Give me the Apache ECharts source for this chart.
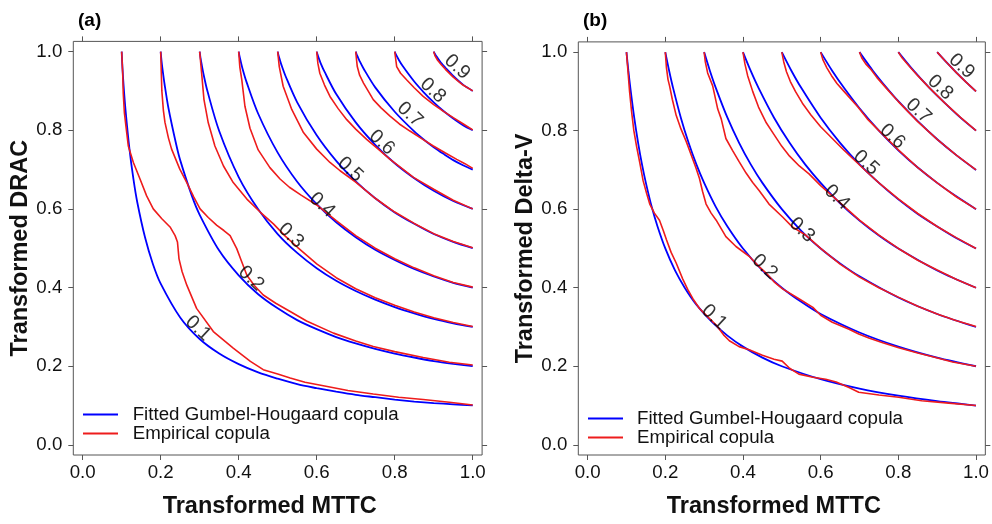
<!DOCTYPE html>
<html><head><meta charset="utf-8">
<script src="https://cdn.jsdelivr.net/npm/echarts@6/dist/echarts.min.js"></script>
<style>html,body{margin:0;padding:0;background:#fff}#c{width:992px;height:524px}</style>
</head><body><div id="c"></div>
<script>
// ---------- data ----------
const levels = ['0.1','0.2','0.3','0.4','0.5','0.6','0.7','0.8','0.9'];
const tickValues = [0, 0.2, 0.4, 0.6, 0.8, 1.0];

// Panel (a): fitted Gumbel-Hougaard contours
const fitA_1 = [[0.1,1],[0.102,0.959],[0.105,0.913],[0.11,0.85],[0.12,0.752],[0.13,0.677],[0.14,0.617],[0.16,0.527],[0.18,0.46],[0.2,0.41],[0.25,0.324],[0.3,0.269],[0.35,0.232],[0.4,0.205],[0.45,0.184],[0.5,0.168],[0.55,0.154],[0.6,0.144],[0.65,0.135],[0.7,0.127],[0.75,0.121],[0.8,0.115],[0.85,0.11],[0.9,0.106],[0.95,0.103],[1,0.1]];
const fitA_2 = [[0.2,1],[0.202,0.978],[0.205,0.953],[0.21,0.917],[0.22,0.856],[0.24,0.763],[0.25,0.724],[0.28,0.633],[0.3,0.585],[0.35,0.494],[0.4,0.431],[0.45,0.383],[0.5,0.347],[0.55,0.317],[0.6,0.294],[0.65,0.274],[0.7,0.258],[0.75,0.244],[0.8,0.232],[0.85,0.222],[0.9,0.213],[0.95,0.206],[1,0.2]];
const fitA_3 = [[0.3,1],[0.302,0.985],[0.305,0.968],[0.31,0.942],[0.32,0.899],[0.35,0.798],[0.4,0.681],[0.45,0.599],[0.5,0.536],[0.55,0.488],[0.6,0.449],[0.65,0.417],[0.7,0.391],[0.75,0.369],[0.8,0.35],[0.85,0.334],[0.9,0.32],[0.95,0.309],[1,0.3]];
const fitA_4 = [[0.4,1],[0.402,0.989],[0.405,0.976],[0.41,0.956],[0.42,0.923],[0.45,0.842],[0.5,0.743],[0.55,0.669],[0.6,0.612],[0.65,0.566],[0.7,0.528],[0.75,0.496],[0.8,0.47],[0.85,0.447],[0.9,0.428],[0.95,0.412],[1,0.4]];
const fitA_5 = [[0.5,1],[0.502,0.991],[0.505,0.981],[0.51,0.965],[0.52,0.938],[0.55,0.871],[0.6,0.787],[0.65,0.722],[0.7,0.67],[0.75,0.627],[0.8,0.591],[0.85,0.562],[0.9,0.536],[0.95,0.516],[1,0.5]];
const fitA_6 = [[0.6,1],[0.602,0.993],[0.605,0.984],[0.61,0.971],[0.62,0.949],[0.65,0.892],[0.7,0.82],[0.75,0.763],[0.8,0.716],[0.85,0.678],[0.9,0.646],[0.95,0.62],[1,0.6]];
const fitA_7 = [[0.7,1],[0.702,0.994],[0.705,0.987],[0.71,0.976],[0.72,0.957],[0.75,0.909],[0.8,0.847],[0.85,0.797],[0.875,0.776],[0.9,0.757],[0.925,0.74],[0.95,0.724],[0.975,0.711],[1,0.7]];
const fitA_8 = [[0.8,1],[0.802,0.995],[0.805,0.989],[0.81,0.98],[0.82,0.964],[0.85,0.924],[0.875,0.896],[0.9,0.871],[0.925,0.849],[0.95,0.83],[0.975,0.813],[1,0.8]];
const fitA_9 = [[0.9,1],[0.902,0.996],[0.905,0.991],[0.91,0.984],[0.92,0.97],[0.93,0.959],[0.95,0.938],[0.975,0.916],[1,0.9]];

// Panel (a): empirical copula contours
const empA_1 = [[0.1,1],[0.1026,0.945],[0.104,0.895],[0.107,0.844],[0.111,0.81],[0.117,0.76],[0.13,0.718],[0.147,0.676],[0.164,0.633],[0.181,0.6],[0.203,0.575],[0.224,0.554],[0.237,0.532],[0.243,0.516],[0.247,0.473],[0.255,0.44],[0.267,0.406],[0.292,0.347],[0.335,0.288],[0.386,0.246],[0.43,0.212],[0.463,0.191],[0.5,0.18],[0.532,0.17],[0.57,0.159],[0.617,0.15],[0.68,0.138],[0.745,0.129],[0.81,0.121],[0.873,0.115],[0.94,0.108],[1,0.101]];
const empA_2 = [[0.2,1],[0.2015,0.95],[0.203,0.9],[0.207,0.85],[0.211,0.82],[0.22,0.78],[0.228,0.752],[0.249,0.701],[0.267,0.667],[0.285,0.63],[0.301,0.6],[0.322,0.578],[0.344,0.558],[0.362,0.545],[0.378,0.532],[0.395,0.499],[0.408,0.465],[0.421,0.431],[0.44,0.405],[0.463,0.381],[0.495,0.36],[0.532,0.339],[0.574,0.315],[0.643,0.284],[0.7,0.264],[0.745,0.25],[0.8,0.237],[0.873,0.222],[0.94,0.21],[1,0.203]];
const empA_3 = [[0.3,1],[0.305,0.945],[0.311,0.878],[0.322,0.819],[0.339,0.76],[0.361,0.709],[0.386,0.667],[0.421,0.625],[0.455,0.592],[0.489,0.562],[0.52,0.53],[0.55,0.503],[0.6,0.46],[0.65,0.425],[0.7,0.397],[0.75,0.374],[0.8,0.355],[0.85,0.338],[0.9,0.323],[0.95,0.311],[1,0.301]];
const empA_4 = [[0.4,1],[0.403,0.96],[0.408,0.928],[0.416,0.861],[0.429,0.805],[0.45,0.75],[0.48,0.705],[0.506,0.676],[0.53,0.655],[0.56,0.635],[0.6,0.61],[0.65,0.57],[0.7,0.532],[0.75,0.5],[0.8,0.473],[0.85,0.45],[0.9,0.43],[0.95,0.413],[1,0.401]];
const empA_5 = [[0.5,1],[0.504,0.962],[0.514,0.912],[0.536,0.853],[0.566,0.794],[0.6,0.752],[0.634,0.718],[0.66,0.697],[0.7,0.668],[0.75,0.627],[0.8,0.592],[0.85,0.563],[0.9,0.537],[0.95,0.517],[1,0.501]];
const empA_6 = [[0.6,1],[0.603,0.97],[0.608,0.945],[0.62,0.915],[0.634,0.886],[0.655,0.855],[0.677,0.827],[0.7,0.803],[0.728,0.777],[0.76,0.75],[0.788,0.726],[0.82,0.702],[0.848,0.68],[0.9,0.65],[0.95,0.622],[1,0.6]];
const empA_7 = [[0.7,1],[0.702,0.98],[0.704,0.962],[0.71,0.94],[0.72,0.92],[0.745,0.878],[0.765,0.857],[0.788,0.836],[0.812,0.816],[0.839,0.798],[0.87,0.778],[0.899,0.76],[0.93,0.742],[0.959,0.726],[0.98,0.715],[1,0.703]];
const empA_8 = [[0.8,1],[0.802,0.985],[0.805,0.962],[0.815,0.945],[0.831,0.928],[0.85,0.908],[0.873,0.886],[0.9,0.865],[0.925,0.848],[0.95,0.832],[0.976,0.816],[1,0.801]];
const empA_9 = [[0.9,1],[0.903,0.99],[0.91,0.978],[0.92,0.966],[0.93,0.955],[0.95,0.935],[0.975,0.915],[1,0.9]];

// Panel (b): fitted Gumbel-Hougaard contours
const fitB_1 = [[0.1,1],[0.105,0.952],[0.11,0.909],[0.12,0.833],[0.13,0.769],[0.14,0.714],[0.15,0.667],[0.165,0.606],[0.18,0.556],[0.2,0.5],[0.225,0.444],[0.25,0.4],[0.28,0.357],[0.32,0.313],[0.36,0.278],[0.4,0.25],[0.45,0.222],[0.5,0.2],[0.6,0.167],[0.7,0.143],[0.8,0.125],[0.9,0.111],[1,0.1]];
const fitB_2 = [[0.2,1],[0.21,0.952],[0.22,0.909],[0.24,0.833],[0.26,0.769],[0.28,0.714],[0.3,0.667],[0.33,0.606],[0.36,0.556],[0.4,0.5],[0.45,0.444],[0.5,0.4],[0.55,0.364],[0.6,0.333],[0.7,0.286],[0.8,0.25],[0.9,0.222],[1,0.2]];
const fitB_3 = [[0.3,1],[0.315,0.952],[0.33,0.909],[0.36,0.833],[0.39,0.769],[0.42,0.714],[0.45,0.667],[0.5,0.6],[0.55,0.545],[0.6,0.5],[0.65,0.462],[0.7,0.429],[0.8,0.375],[0.9,0.333],[1,0.3]];
const fitB_4 = [[0.4,1],[0.42,0.952],[0.44,0.909],[0.48,0.833],[0.52,0.769],[0.56,0.714],[0.6,0.667],[0.65,0.615],[0.7,0.571],[0.75,0.533],[0.8,0.5],[0.9,0.444],[1,0.4]];
const fitB_5 = [[0.5,1],[0.525,0.952],[0.55,0.909],[0.6,0.833],[0.65,0.769],[0.7,0.714],[0.75,0.667],[0.8,0.625],[0.85,0.588],[0.9,0.556],[0.95,0.526],[1,0.5]];
const fitB_6 = [[0.6,1],[0.63,0.952],[0.66,0.909],[0.7,0.857],[0.75,0.8],[0.8,0.75],[0.85,0.706],[0.9,0.667],[0.95,0.632],[1,0.6]];
const fitB_7 = [[0.7,1],[0.735,0.952],[0.77,0.909],[0.8,0.875],[0.85,0.824],[0.9,0.778],[0.95,0.737],[1,0.7]];
const fitB_8 = [[0.8,1],[0.84,0.952],[0.88,0.909],[0.92,0.87],[0.96,0.833],[1,0.8]];
const fitB_9 = [[0.9,1],[0.925,0.973],[0.95,0.947],[0.975,0.923],[1,0.9]];

// Panel (b): empirical copula contours
const empB_1 = [[0.1,1],[0.104,0.95],[0.108,0.9],[0.113,0.85],[0.119,0.8],[0.126,0.76],[0.134,0.72],[0.143,0.672],[0.152,0.64],[0.16,0.613],[0.172,0.59],[0.185,0.572],[0.195,0.545],[0.203,0.522],[0.215,0.49],[0.228,0.463],[0.245,0.422],[0.258,0.395],[0.271,0.372],[0.288,0.347],[0.31,0.325],[0.331,0.305],[0.35,0.28],[0.365,0.265],[0.39,0.25],[0.416,0.242],[0.45,0.228],[0.48,0.218],[0.501,0.213],[0.52,0.195],[0.544,0.18],[0.58,0.172],[0.613,0.167],[0.64,0.16],[0.673,0.146],[0.698,0.134],[0.75,0.127],[0.801,0.121],[0.86,0.112],[0.93,0.106],[1,0.1]];
const empB_2 = [[0.2,1],[0.203,0.96],[0.207,0.93],[0.211,0.914],[0.218,0.88],[0.228,0.839],[0.24,0.805],[0.254,0.772],[0.266,0.74],[0.279,0.705],[0.288,0.678],[0.296,0.645],[0.305,0.613],[0.318,0.59],[0.331,0.572],[0.356,0.53],[0.382,0.505],[0.416,0.48],[0.44,0.455],[0.459,0.438],[0.48,0.415],[0.502,0.397],[0.544,0.372],[0.58,0.35],[0.6,0.33],[0.63,0.312],[0.673,0.294],[0.698,0.282],[0.724,0.272],[0.76,0.26],[0.801,0.247],[0.85,0.234],[0.886,0.225],[0.94,0.211],[1,0.2]];
const empB_3 = [[0.3,1],[0.303,0.975],[0.309,0.947],[0.322,0.914],[0.335,0.855],[0.344,0.83],[0.356,0.78],[0.373,0.75],[0.39,0.721],[0.408,0.692],[0.425,0.668],[0.442,0.647],[0.467,0.613],[0.502,0.58],[0.527,0.555],[0.56,0.535],[0.6,0.5],[0.65,0.46],[0.7,0.427],[0.75,0.4],[0.8,0.376],[0.85,0.353],[0.9,0.333],[0.95,0.316],[1,0.301]];
const empB_4 = [[0.4,1],[0.405,0.97],[0.412,0.94],[0.425,0.9],[0.44,0.86],[0.46,0.82],[0.48,0.79],[0.5,0.76],[0.52,0.735],[0.545,0.71],[0.57,0.69],[0.6,0.66],[0.64,0.625],[0.7,0.572],[0.75,0.534],[0.8,0.5],[0.85,0.47],[0.9,0.445],[0.95,0.421],[1,0.4]];
const empB_5 = [[0.5,1],[0.505,0.975],[0.512,0.95],[0.522,0.925],[0.535,0.9],[0.553,0.87],[0.575,0.84],[0.6,0.81],[0.63,0.78],[0.66,0.75],[0.69,0.722],[0.72,0.694],[0.75,0.667],[0.8,0.626],[0.85,0.589],[0.9,0.556],[0.95,0.527],[1,0.5]];
const empB_6 = [[0.6,1],[0.606,0.98],[0.616,0.96],[0.628,0.94],[0.642,0.92],[0.66,0.9],[0.678,0.88],[0.696,0.86],[0.72,0.83],[0.75,0.8],[0.8,0.751],[0.85,0.706],[0.9,0.667],[0.95,0.631],[1,0.6]];
const empB_7 = [[0.7,1],[0.706,0.985],[0.716,0.97],[0.73,0.955],[0.745,0.935],[0.77,0.907],[0.8,0.874],[0.85,0.823],[0.9,0.778],[0.95,0.737],[1,0.7]];
const empB_8 = [[0.8,1],[0.81,0.985],[0.83,0.962],[0.85,0.94],[0.88,0.909],[0.92,0.87],[0.96,0.834],[1,0.8]];
const empB_9 = [[0.9,1],[0.925,0.973],[0.95,0.947],[0.975,0.923],[1,0.9]];

// contour label anchor points (data coordinates)
const labelPosA = [[0.296,0.296],[0.432,0.423],[0.534,0.532],[0.614,0.61],[0.686,0.7],[0.767,0.769],[0.839,0.84],[0.898,0.901],[0.96,0.961]];
const labelPosB = [[0.326,0.325],[0.456,0.453],[0.552,0.547],[0.642,0.63],[0.717,0.718],[0.785,0.785],[0.852,0.85],[0.908,0.91],[0.963,0.964]];

const fitA = [fitA_1,fitA_2,fitA_3,fitA_4,fitA_5,fitA_6,fitA_7,fitA_8,fitA_9];
const empA = [empA_1,empA_2,empA_3,empA_4,empA_5,empA_6,empA_7,empA_8,empA_9];
const fitB = [fitB_1,fitB_2,fitB_3,fitB_4,fitB_5,fitB_6,fitB_7,fitB_8,fitB_9];
const empB = [empB_1,empB_2,empB_3,empB_4,empB_5,empB_6,empB_7,empB_8,empB_9];

const panelLetters = ['(a)','(b)'];
const yTitles = ['Transformed DRAC','Transformed Delta-V'];
const xTitle = 'Transformed MTTC';
const fitName = 'Fitted Gumbel-Hougaard copula';
const empName = 'Empirical copula';

// ---------- styling ----------
const FONT = '"Liberation Sans", Arial, Helvetica, sans-serif';
const BLUE = '#0000ff';
const RED = '#ee1c1c';
const AX = '#555';
const FS = 18.7;

const gridsPx = [
  {left:73.3, top:41.4, width:408.8, height:416.2},
  {left:578.3, top:41.9, width:408.8, height:420.2}
];
const yNameGap = [36, 41];

const option = {
  animation:false,
  backgroundColor:'#fff',
  textStyle:{fontFamily:FONT},
  title: panelLetters.map((t,i)=>({text:t, left: i===0?78:583, top:11, padding:0,
      textStyle:{fontFamily:FONT, fontWeight:'bold', fontSize:19, color:'#000'}})),
  grid: gridsPx.map(g=>Object.assign({show:true, borderColor:AX, borderWidth:1, backgroundColor:'transparent'}, g)),
  xAxis: [],
  yAxis: [],
  legend: [
    {left:83, top:405, padding:0, orient:'vertical', selectedMode:false, data:[fitName, empName], icon:'rect',
     itemWidth:35, itemHeight:2, itemGap:0,
     textStyle:{fontFamily:FONT, fontSize:FS, lineHeight:18.4, color:'#111', padding:[0,0,0,9.7]}},
    {left:588, top:409, padding:0, orient:'vertical', selectedMode:false, data:[fitName, empName], icon:'rect',
     itemWidth:35, itemHeight:2, itemGap:0,
     textStyle:{fontFamily:FONT, fontSize:FS, lineHeight:19, color:'#111', padding:[0,0,0,9]}}
  ],
  series: []
};

const fmt = v => v.toFixed(1);
const tick = {show:true, inside:false, length:5, customValues:tickValues, lineStyle:{color:AX}};
for (let i=0;i<2;i++){
  const base = {gridIndex:i, type:'value', min:-0.024, max:1.024, splitLine:{show:false},
    axisLine:{show:false, onZero:false}};
  option.xAxis.push(Object.assign({}, base, {position:'bottom', axisTick:tick,
    axisLabel:{customValues:tickValues, formatter:fmt, fontSize:FS, color:'#111', margin:8, fontFamily:FONT},
    name:xTitle, nameLocation:'middle', nameGap:40,
    nameTextStyle:{fontFamily:FONT, fontWeight:'bold', fontSize:23.5, color:'#111', padding:[0,16,0,0]}}));
  option.xAxis.push(Object.assign({}, base, {position:'top', axisTick:tick, axisLabel:{show:false}}));
  option.yAxis.push(Object.assign({}, base, {min:-0.026, max:1.026, position:'left', axisTick:tick,
    axisLabel:{customValues:tickValues, formatter:fmt, fontSize:FS, color:'#111', margin:11, fontFamily:FONT},
    name:yTitles[i], nameLocation:'middle', nameGap:yNameGap[i],
    nameTextStyle:{fontFamily:FONT, fontWeight:'bold', fontSize:23.5, color:'#111'}}));
  option.yAxis.push(Object.assign({}, base, {min:-0.026, max:1.026, position:'right', axisTick:tick,
    axisLabel:{show:false}}));
}

function addPanel(i, fits, emps, labelPos){
  const xi = 2*i, yi = 2*i;
  fits.forEach(d=>option.series.push({type:'line', name:fitName, xAxisIndex:xi, yAxisIndex:yi, data:d,
    showSymbol:false, symbol:'none', smooth:0.3, silent:true, z:2,
    lineStyle:{color:BLUE, width:1.8}, itemStyle:{color:BLUE}}));
  emps.forEach(d=>option.series.push({type:'line', name:empName, xAxisIndex:xi, yAxisIndex:yi, data:d,
    showSymbol:false, symbol:'none', silent:true, z:3,
    lineStyle:{color:RED, width:1.6}, itemStyle:{color:RED}}));
  option.series.push({type:'scatter', xAxisIndex:xi, yAxisIndex:yi, symbolSize:0, silent:true, z:5,
    data: labelPos.map((p,k)=>({value:p, label:{formatter:levels[k]}})),
    label:{show:true, position:'inside', rotate:-43, fontSize:19.5, color:'#000', fontFamily:FONT}});
}
addPanel(0, fitA, empA, labelPosA);
addPanel(1, fitB, empB, labelPosB);

const chart = echarts.init(document.getElementById('c'), null, {renderer:'canvas'});
chart.setOption(option);
</script>
</body></html>
